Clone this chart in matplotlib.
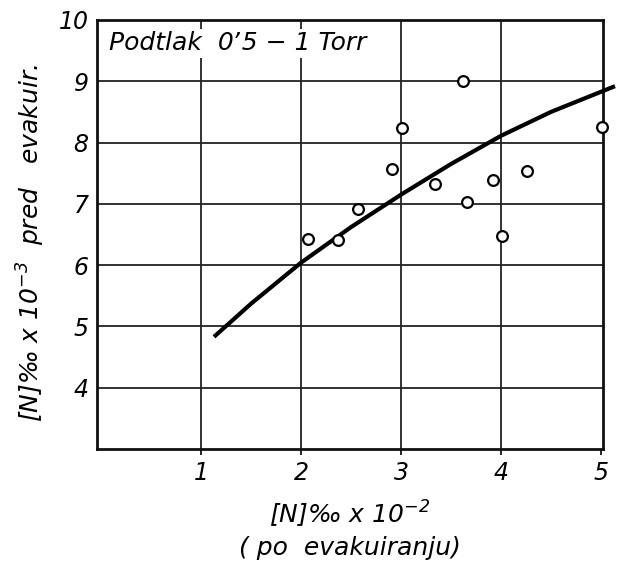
import numpy as np
import matplotlib.pyplot as plt

plt.rcParams['font.family'] = ['DejaVu Sans']
plt.rcParams['font.style'] = 'italic'
plt.rcParams['mathtext.fontset'] = 'dejavusans'
plt.rcParams['mathtext.default'] = 'it'

# measured points: N after evacuation (x 10^-2) vs N before evacuation (x 10^-3)
n_after = [2.07, 2.37, 2.57, 2.91, 3.01, 3.34, 3.62, 3.66, 3.92, 4.01, 4.26, 5.01]
n_before = [6.43, 6.41, 6.92, 7.57, 8.24, 7.32, 9.00, 7.03, 7.39, 6.48, 7.54, 8.25]

# fitted trend curve
curve_x = [1.13, 1.5, 2.0, 2.5, 3.0, 3.5, 4.0, 4.5, 5.14]
curve_y = [4.83, 5.37, 6.04, 6.62, 7.15, 7.65, 8.11, 8.50, 8.92]

x_ticks = [1, 2, 3, 4, 5]
y_ticks = [4, 5, 6, 7, 8, 9, 10]

fig = plt.figure(figsize=(6.23, 5.69), dpi=100)
ax = fig.add_axes([0.1557, 0.2109, 0.8122, 0.7540])

ax.set_xlim(-0.04, 5.02)
ax.set_ylim(3, 10)

ax.set_xticks(x_ticks)
ax.set_yticks(y_ticks)
ax.tick_params(axis='x', direction='out', length=4, width=1.2, labelsize=17, pad=5)
ax.tick_params(axis='y', length=0, labelsize=17, pad=6)

# grid lines (none at x=5, which is the frame itself)
for gx in [1, 2, 3, 4]:
    ax.axvline(gx, color='#222222', lw=1.3, zorder=1)
for gy in [4, 5, 6, 7, 8, 9]:
    ax.axhline(gy, color='#222222', lw=1.3, zorder=1)

for s in ax.spines.values():
    s.set_linewidth(2)
    s.set_color('#111111')

ax.plot(curve_x, curve_y, color='black', lw=3, zorder=3, clip_on=False,
        solid_capstyle='butt')
ax.scatter(n_after, n_before, s=60, facecolors='white', edgecolors='black',
           linewidths=1.6, zorder=4, clip_on=False)

ax.text(0.08, 9.62, "Podtlak  0ʼ5 − 1 Torr", fontsize=18, va='center', ha='left',
        zorder=5, bbox=dict(facecolor='white', edgecolor='none', pad=2))

ax.set_xlabel("[N]‰ x 10$^{-2}$\n( po  evakuiranju)", fontsize=18,
              labelpad=10, linespacing=1.3)
ax.set_ylabel("[N]‰ x 10$^{-3}$  pred   evakuir.", fontsize=18)
ax.yaxis.set_label_coords(-0.098, 0.48)

fig.savefig('out.png', dpi=100)
